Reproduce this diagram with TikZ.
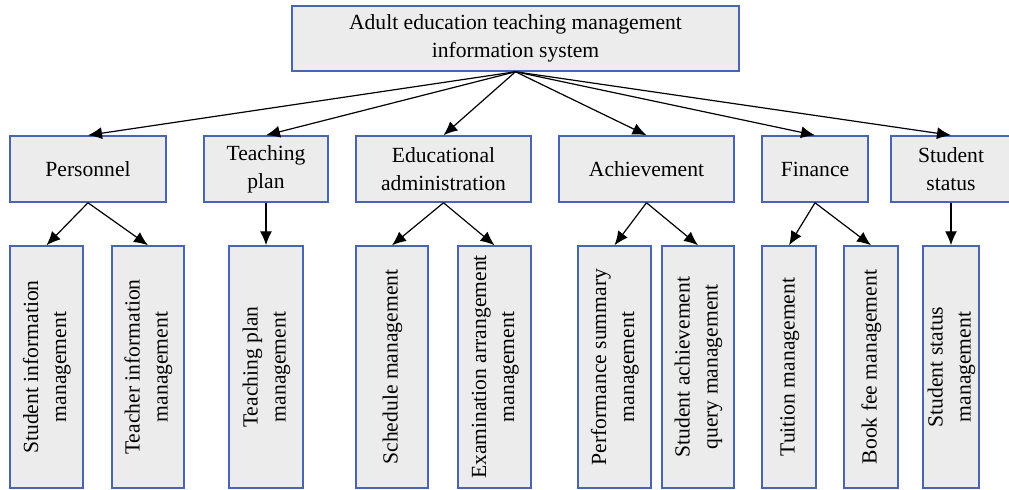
\documentclass[tikz,border=0pt]{standalone}
\usepackage{fontspec}
\setmainfont{Liberation Serif}
\usetikzlibrary{arrows.meta}
\definecolor{boxfill}{RGB}{235,236,235}
\definecolor{boxline}{RGB}{72,100,178}
\newcommand{\uptext}[1]{\rotatebox{90}{\begin{tabular}{@{}c@{}}#1\end{tabular}}}
\tikzset{
  box/.style={draw=boxline, fill=boxfill, line width=0.75pt, inner sep=0pt,
    align=center, font=\fontsize{10.8}{14}\selectfont},
  leaf/.style={box, minimum height=121pt},
}
\begin{document}
\begin{tikzpicture}[x=0.5pt, y=-0.5pt]
      \useasboundingbox (0,0) rectangle (1009,489);
      \node[box, minimum width=223.5pt, minimum height=32.5pt] (sys) at (515.5,38.5)
        {Adult education teaching management\\information system};
      \node[box, minimum width=78pt, minimum height=33pt] (pers) at (88,169) {Personnel};
      \node[box, minimum width=62pt, minimum height=33pt] (plan) at (266,169) {Teaching\\plan};
      \node[box, minimum width=87.5pt, minimum height=33pt] (admin) at (443.5,169) {Educational\\administration};
      \node[box, minimum width=87.5pt, minimum height=33pt] (ach) at (646.5,169) {Achievement};
      \node[box, minimum width=53pt, minimum height=33pt] (fin) at (815,169) {Finance};
      \node[box, minimum width=60pt, minimum height=33pt] (stat) at (951,169) {Student\\status};
      \node[leaf, minimum width=36.5pt] (stuinfo) at (46.5,367) {\uptext{Student information\\management}};
      \node[leaf, minimum width=36pt] (teainfo) at (148,367) {\uptext{Teacher information\\management}};
      \node[leaf, minimum width=37pt] (planmgmt) at (266,367) {\uptext{Teaching plan\\management}};
      \node[leaf, minimum width=36pt] (sched) at (392,367) {\uptext{Schedule management}};
      \node[leaf, minimum width=36.5pt] (exam) at (494.5,367) {\uptext{Examination arrangement\\management}};
      \node[leaf, minimum width=36.5pt] (perf) at (614.5,367) {\uptext{Performance summary\\management}};
      \node[leaf, minimum width=36pt] (query) at (698,367) {\uptext{Student achievement\\query management}};
      \node[leaf, minimum width=27pt] (tuition) at (789,367) {\uptext{Tuition management}};
      \node[leaf, minimum width=27pt] (book) at (871,367) {\uptext{Book fee management}};
      \node[leaf, minimum width=27pt] (statmgmt) at (951,367) {\uptext{Student status\\management}};
      \begin{scope}[-{Latex[length=7pt,width=6pt]}, line width=0.6pt]
        \draw (sys.south) to (pers.north);
        \draw (sys.south) to (plan.north);
        \draw (sys.south) to (admin.north);
        \draw (sys.south) to (ach.north);
        \draw (sys.south) to (fin.north);
        \draw (sys.south) to (stat.north);
        \draw (pers.south) to (stuinfo.north);
        \draw (pers.south) to (teainfo.north);
        \draw (plan.south) to (planmgmt.north);
        \draw (admin.south) to (sched.north);
        \draw (admin.south) to (exam.north);
        \draw (ach.south) to (perf.north);
        \draw (ach.south) to (query.north);
        \draw (fin.south) to (tuition.north);
        \draw (fin.south) to (book.north);
        \draw (stat.south) to (statmgmt.north);
      \end{scope}
    \end{tikzpicture}
\end{document}
